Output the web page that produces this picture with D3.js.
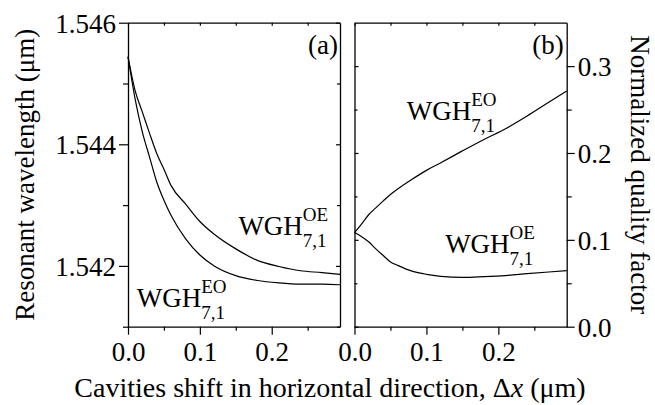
<!DOCTYPE html>
<html>
<head>
<meta charset="utf-8">
<script src="https://cdn.jsdelivr.net/npm/d3@7"></script>
<style>
  body { margin: 0; background: #fff; }
  text { font-family: "Liberation Serif", "Times New Roman", serif; fill: #000; }
  .domain { stroke: #000; stroke-width: 1.3px; }
  .tick line { stroke: #000; stroke-width: 1.2px; }
</style>
</head>
<body>
<div id="chart"></div>
<script>
// cavity shift (um)
var shift = [0, 0.01, 0.02, 0.03, 0.04, 0.05, 0.06, 0.08, 0.10, 0.12, 0.15, 0.18, 0.21, 0.24, 0.27, 0.295];

// (a) resonant wavelength (um)
var wlOE = [1.54544, 1.54488, 1.54453, 1.54418, 1.54385, 1.54359, 1.54332, 1.54302, 1.54273, 1.54252, 1.54228, 1.54209, 1.54199, 1.54192, 1.54189, 1.54186];
var wlEO = [1.54544, 1.54474, 1.54420, 1.54379, 1.54338, 1.54308, 1.54283, 1.54245, 1.54218, 1.54200, 1.54184, 1.54176, 1.54172, 1.54170, 1.54170, 1.54169];

// (b) normalized quality factor
var qEO = [0.1084, 0.1185, 0.1292, 0.1371, 0.1448, 0.1522, 0.1585, 0.1697, 0.1800, 0.1888, 0.2024, 0.2156, 0.2280, 0.2426, 0.2584, 0.2714];
var qOE = [0.1084, 0.1037, 0.0975, 0.0893, 0.0819, 0.0746, 0.0706, 0.0640, 0.0603, 0.0580, 0.0567, 0.0576, 0.0589, 0.0610, 0.0630, 0.0645];

// ticks
var xTicks = [0, 0.1, 0.2];
var xMinor = [0.05, 0.15, 0.25];
var wlTicks = [1.542, 1.544, 1.546];
var wlMinor = [1.541, 1.543, 1.545];
var qTicks = [0, 0.1, 0.2, 0.3];
var qMinor = [0.05, 0.15, 0.25];

var svgWidth = 655, svgHeight = 405;
var plotTop = 22.7, plotBottom = 326.7;

var svg = d3.select("#chart").append("svg")
  .attr("width", svgWidth)
  .attr("height", svgHeight);

// scales
var xA = d3.scaleLinear().domain([0, 0.295]).range([128, 340]);
var xB = d3.scaleLinear().domain([0, 0.295]).range([354.5, 566.7]);
var yA = d3.scaleLinear().domain([1.541, 1.546]).range([plotBottom, plotTop]);
var yB = d3.scaleLinear().domain([0, 0.35]).range([plotBottom, plotTop]);

var fmt1 = d3.format(".1f");
var fmt3 = d3.format(".3f");

var fs = 27;

// helper: major axis + minor ticks
function drawAxis(axisFn, scale, major, minor, tMajor, tMinor, fmt, transform) {
  var g = svg.append("g").attr("transform", transform);
  g.call(axisFn(scale).tickValues(major).tickSize(tMajor).tickSizeOuter(0)
    .tickFormat(fmt ? fmt : ""));
  g.selectAll(".tick text").style("font-size", fs + "px")
    .style("font-family", "'Liberation Serif', serif");
  if (minor.length) {
    var gm = svg.append("g").attr("transform", transform);
    gm.call(axisFn(scale).tickValues(minor).tickSize(tMinor).tickSizeOuter(0).tickFormat(""));
    gm.select(".domain").remove();
  }
  return g;
}

// panel (a)
var axA_b = drawAxis(d3.axisBottom, xA, xTicks, xMinor, 8, 4, fmt1, "translate(0," + plotBottom + ")");
axA_b.selectAll(".tick text").attr("dy", "0.85em");
drawAxis(d3.axisTop, xA, xTicks.concat(xMinor), [], -3, 0, null, "translate(0," + plotTop + ")");
var axA_l = drawAxis(d3.axisLeft, yA, wlTicks, wlMinor, 9, 5, fmt3, "translate(128,0)");
axA_l.selectAll(".tick text").attr("dy", "0.35em");
drawAxis(d3.axisRight, yA, wlTicks, wlMinor, -4, -3, null, "translate(340,0)");

// panel (b)
var axB_b = drawAxis(d3.axisBottom, xB, xTicks, xMinor, 8, 4, fmt1, "translate(0," + plotBottom + ")");
axB_b.selectAll(".tick text").attr("dy", "0.85em");
drawAxis(d3.axisTop, xB, xTicks.concat(xMinor), [], -3, 0, null, "translate(0," + plotTop + ")");
drawAxis(d3.axisLeft, yB, qTicks, qMinor, -4, -3, null, "translate(354.5,0)");
var axB_r = drawAxis(d3.axisRight, yB, qTicks, qMinor, 8, 5, fmt1, "translate(566.7,0)");
axB_r.selectAll(".tick text").attr("dy", "0.35em");

// curves
function drawLine(xs, ys, vals) {
  var line = d3.line()
    .x(function(d, i) { return xs(shift[i]); })
    .y(function(d) { return ys(d); })
    .curve(d3.curveMonotoneX);
  svg.append("path")
    .datum(vals)
    .attr("d", line)
    .attr("fill", "none")
    .attr("stroke", "#000")
    .attr("stroke-width", 1.2);
}
drawLine(xA, yA, wlOE);
drawLine(xA, yA, wlEO);
drawLine(xB, yB, qEO);
drawLine(xB, yB, qOE);

// mode labels WGH^sup_7,1
function modeLabel(x, y, sup) {
  var t = svg.append("text").attr("x", x).attr("y", y)
    .style("font-size", fs + "px").text("WGH");
  var w = t.node().getComputedTextLength();
  svg.append("text").attr("x", x + w).attr("y", y - 14)
    .style("font-size", "19px").text(sup);
  svg.append("text").attr("x", x + w).attr("y", y + 12)
    .style("font-size", "19px").text("7,1");
}
modeLabel(xA(0.1536), yA(1.54251), "OE");
modeLabel(xA(0.0121), yA(1.54133), "EO");
modeLabel(xB(0.0727), yB(0.2384), "EO");
modeLabel(xB(0.126), yB(0.0847), "OE");

// panel letters
svg.append("text").attr("x", xA(0.295) - 2).attr("y", 54)
  .attr("text-anchor", "end").style("font-size", fs + "px").text("(a)");
svg.append("text").attr("x", xB(0.295) - 3).attr("y", 54)
  .attr("text-anchor", "end").style("font-size", fs + "px").text("(b)");

// axis titles
svg.append("text")
  .attr("transform", "translate(34," + ((plotTop + plotBottom) / 2) + ") rotate(-90)")
  .attr("text-anchor", "middle")
  .style("font-size", fs + "px")
  .text("Resonant wavelength (\u03bcm)");

svg.append("text")
  .attr("transform", "translate(631," + ((plotTop + plotBottom) / 2) + ") rotate(90)")
  .attr("text-anchor", "middle")
  .style("font-size", fs + "px")
  .text("Normalized quality factor");

var xt = svg.append("text")
  .attr("x", 330).attr("y", 397)
  .attr("text-anchor", "middle")
  .style("font-size", "28px");
xt.append("tspan").text("Cavities shift in horizontal direction, \u0394");
xt.append("tspan").style("font-style", "italic").text("x");
xt.append("tspan").text(" (\u03bcm)");
</script>
</body>
</html>
